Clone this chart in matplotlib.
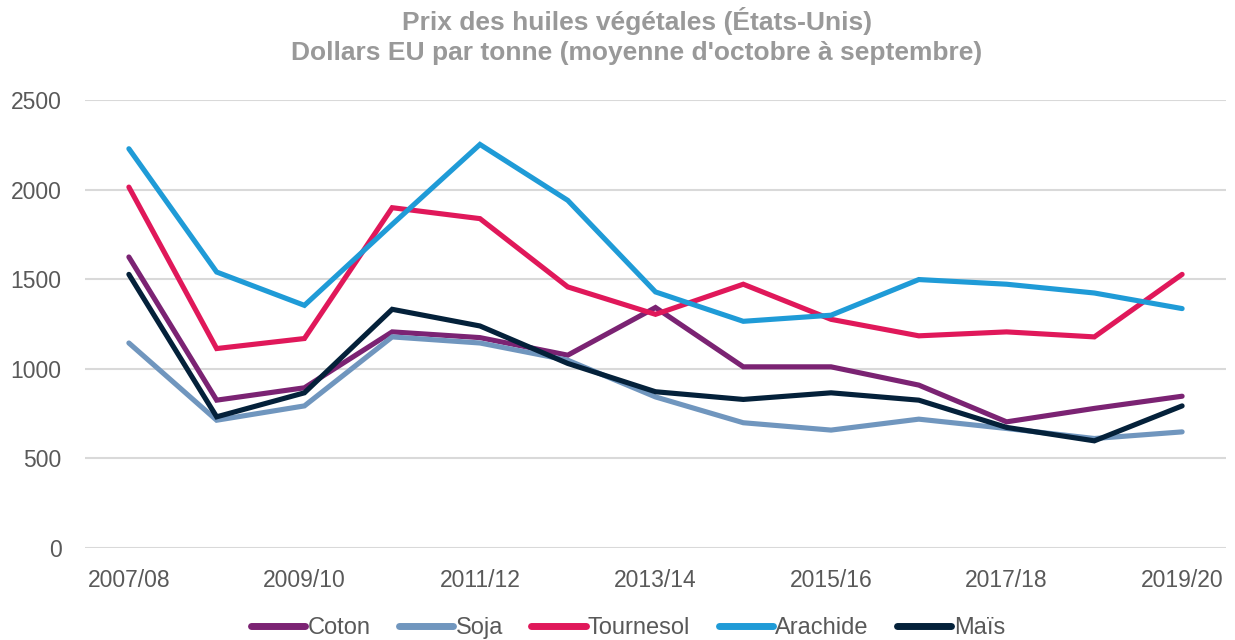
import matplotlib
matplotlib.use("Agg")
import matplotlib.pyplot as plt

plt.rcParams['font.family'] = ['Liberation Sans', 'DejaVu Sans']

# Données
campagnes = ['2007/08', '2008/09', '2009/10', '2010/11', '2011/12', '2012/13', '2013/14',
             '2014/15', '2015/16', '2016/17', '2017/18', '2018/19', '2019/20']
coton = [1624, 825, 894, 1206, 1174, 1076, 1342, 1011, 1011, 909, 704, 779, 847]
soja = [1144, 713, 793, 1178, 1144, 1048, 843, 699, 658, 719, 667, 611, 648]
tournesol = [2014, 1113, 1169, 1899, 1838, 1457, 1304, 1472, 1276, 1184, 1206, 1178, 1527]
arachide = [2228, 1540, 1354, 1806, 2252, 1940, 1429, 1265, 1299, 1498, 1472, 1423, 1336]
mais = [1527, 732, 866, 1332, 1239, 1030, 872, 829, 866, 825, 673, 598, 793]

series = [
    ('Coton', coton, '#7b2373'),
    ('Soja', soja, '#7096be'),
    ('Tournesol', tournesol, '#e0185a'),
    ('Arachide', arachide, '#1f9bd7'),
    ('Maïs', mais, '#04213a'),
]

gris_texte = '#595959'
gris_titre = '#999999'

fig = plt.figure(figsize=(12.35, 6.4), dpi=100)
ax = fig.add_axes([85 / 1235, 1 - 548 / 640, (1226 - 85) / 1235, 448 / 640])

x = list(range(len(campagnes)))
for nom, valeurs, couleur in series:
    ax.plot(x, valeurs, color=couleur, lw=3.7, label=nom,
            solid_capstyle='round', solid_joinstyle='miter')

ax.set_xlim(-0.5, len(campagnes) - 0.5)
ax.set_ylim(0, 2500)
ax.set_yticks(range(0, 2501, 500))
ax.set_xticks(x[::2])
ax.set_xticklabels(campagnes[::2])
ax.tick_params(axis='both', length=0, labelsize=16.5, labelcolor=gris_texte)
ax.tick_params(axis='y', pad=17)
ax.tick_params(axis='x', pad=15)
ax.grid(axis='y', color='#d9d9d9', lw=1.5)
ax.set_axisbelow(True)
for s in ax.spines.values():
    s.set_visible(False)

fig.text(637 / 1235, 1 - 21 / 640, "Prix des huiles végétales (États-Unis)",
         ha='center', va='center', fontsize=19, fontweight='bold', color=gris_titre)
fig.text(637 / 1235, 1 - 53 / 640, "Dollars EU par tonne (moyenne d'octobre à septembre)",
         ha='center', va='center', fontsize=19, fontweight='bold', color=gris_titre)

leg = fig.legend(loc='center', bbox_to_anchor=(628 / 1235, 1 - 628 / 640), ncol=5,
                 frameon=False, fontsize=17, handlelength=2.3, handletextpad=0.1,
                 columnspacing=1.2, borderaxespad=0)
for t in leg.get_texts():
    t.set_color(gris_texte)
for h in leg.get_lines():
    h.set_linewidth(5)
    h.set_solid_capstyle('round')

fig.savefig('out.png', dpi=100)
